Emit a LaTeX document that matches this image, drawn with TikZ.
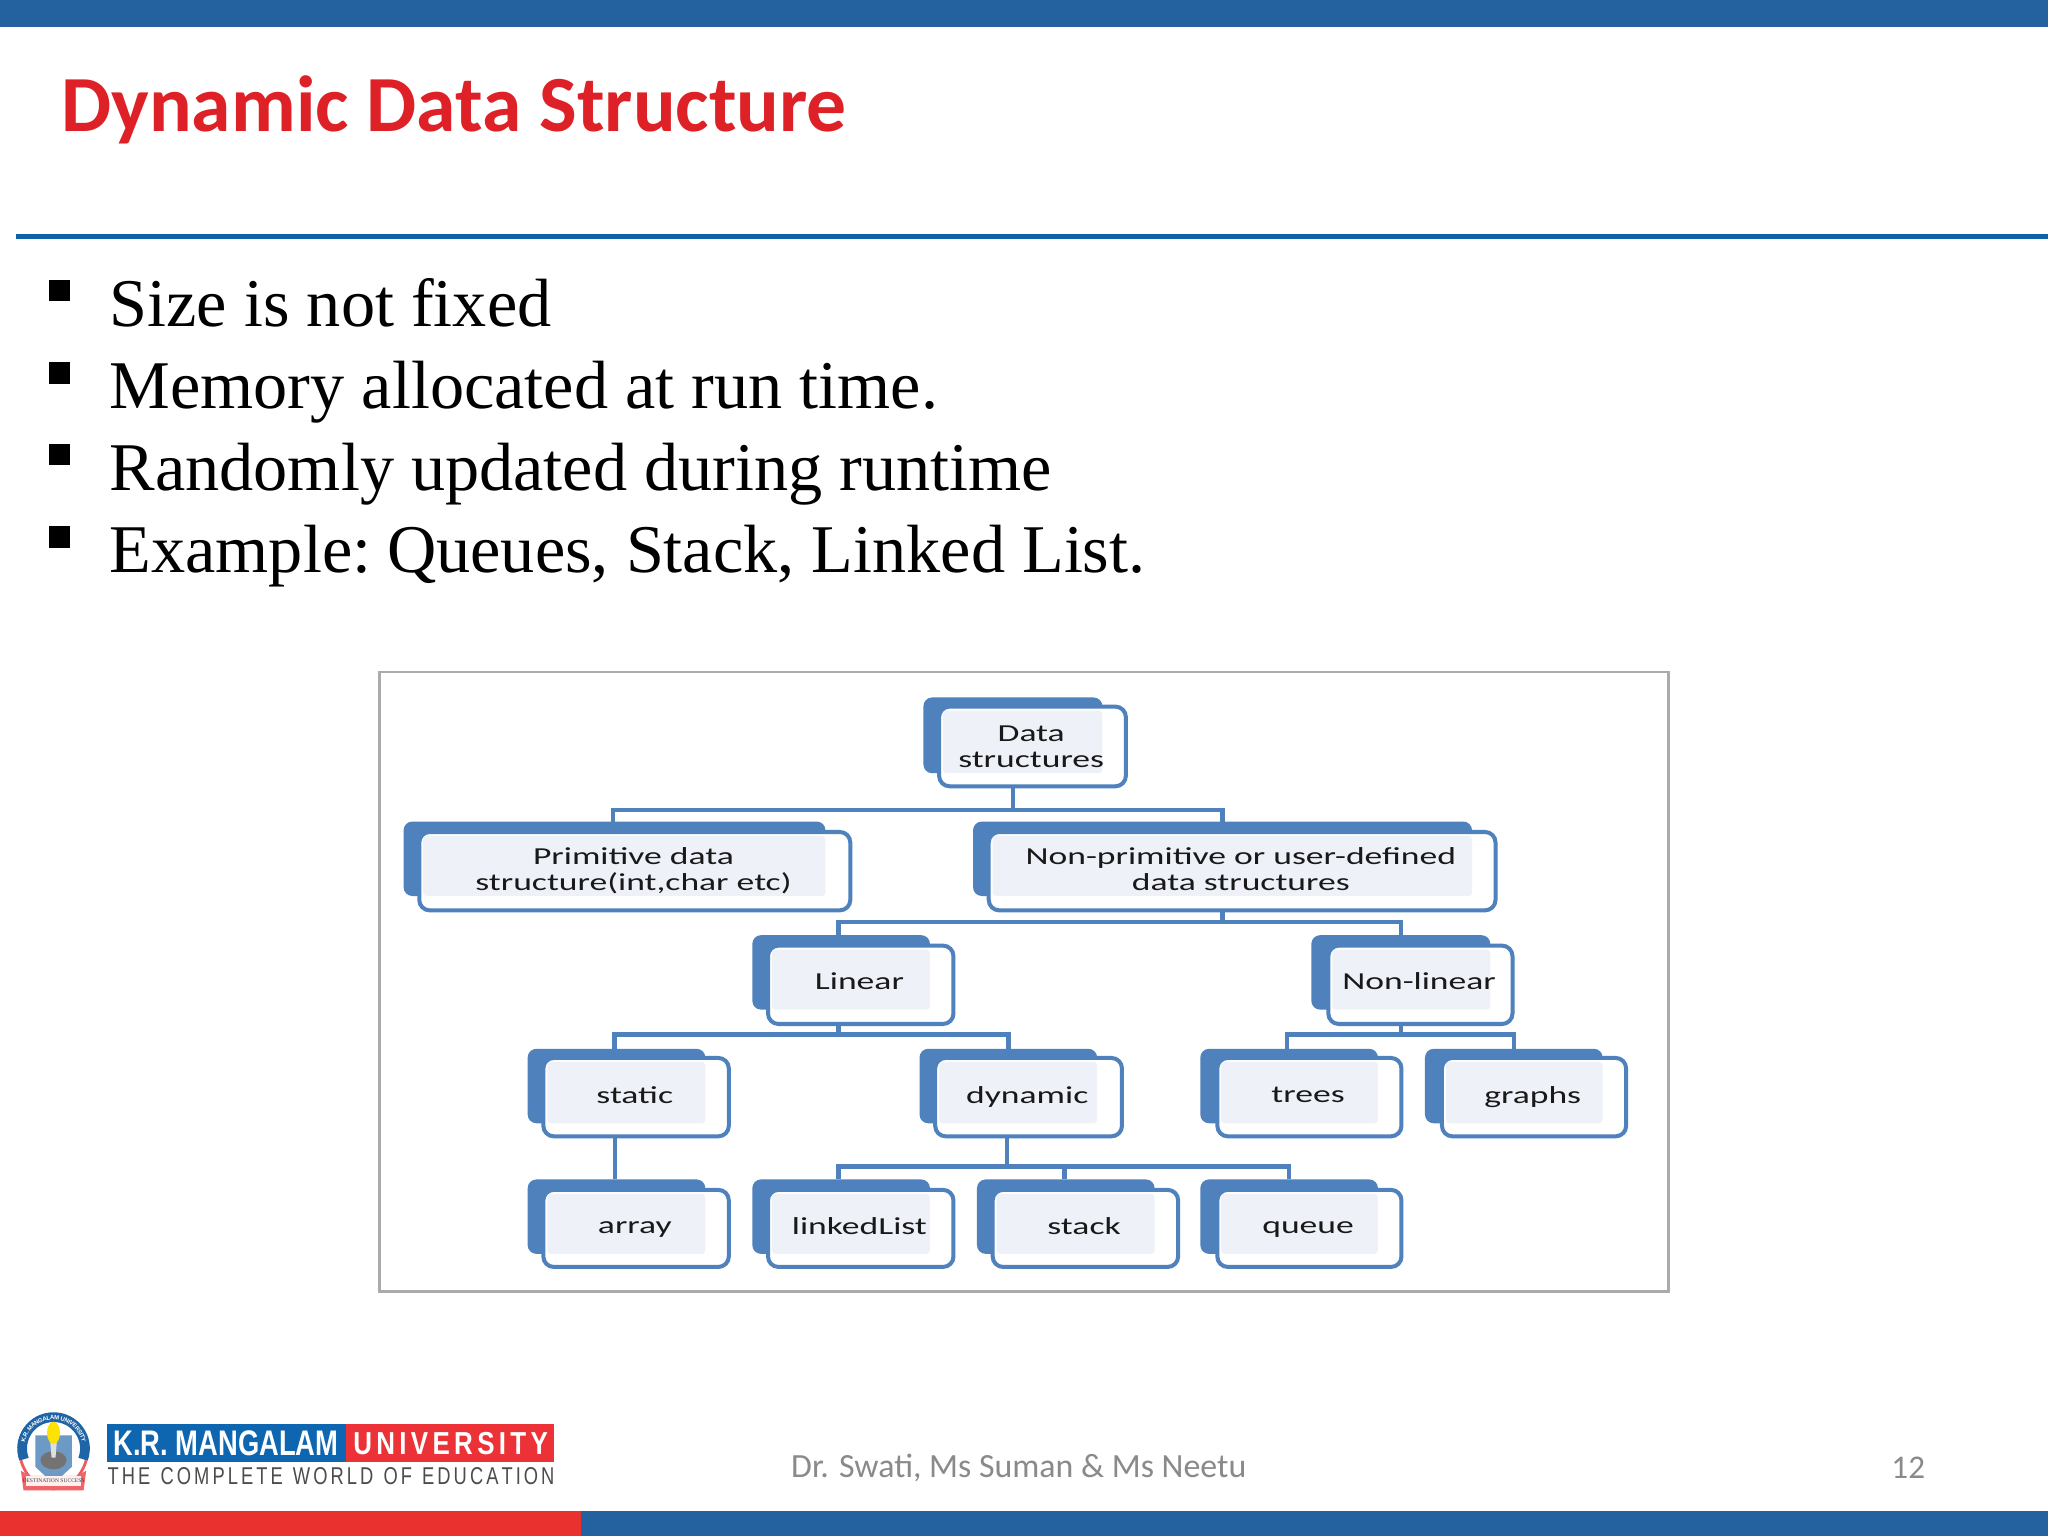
\documentclass[tikz,border=0pt]{standalone}
\usepackage{fontspec}
\usepackage{graphicx}
\setmainfont{Liberation Serif}
\newfontfamily\carl{Carlito}
\newfontfamily\arl{Liberation Sans}
\usetikzlibrary{decorations.text}
\definecolor{barblue}{HTML}{23619F}
\definecolor{rulecol}{HTML}{0F62A8}
\definecolor{titlered}{HTML}{DE2127}
\definecolor{footred}{HTML}{E93130}
\definecolor{treeblue}{HTML}{4F81BD}
\definecolor{palefill}{HTML}{EEF2F8}
\definecolor{framegray}{HTML}{ABABAB}
\definecolor{footgray}{HTML}{8A8A8A}
\definecolor{logoblue}{HTML}{0F66B0}
\definecolor{logored}{HTML}{EC3237}
\definecolor{sealblue}{HTML}{1F64A6}
\tikzset{
  x=0.75pt,y=-0.75pt,
  plain/.style={inner sep=0,outer sep=0},
  backbox/.style={plain,fill=treeblue,rounded corners=5pt},
  frontbox/.style={plain,draw=treeblue,line width=2.3pt,fill=white,rounded corners=6pt},
  palebox/.style={plain,fill=palefill,rounded corners=2pt},
  treelabel/.style={plain,font=\carl\fontsize{14}{15}\selectfont,align=center,text=black!90,xscale=1.46,transform shape},
  link/.style={draw=treeblue,line width=2.5pt},
  bullet/.style={plain,fill=black,minimum size=12.5pt},
  bullettext/.style={plain,anchor=base west,font=\fontsize{39.2}{42}\selectfont},
}
% name, back x0, back y0, back x1, back y1
\newcommand\backnode[5]{%
  \node[backbox,minimum width={0.75pt*(#4-#2)},minimum height={0.75pt*(#5-#3)}] (#1) at ({(#2+#4)/2},{(#3+#5)/2}) {};}
% name, front x0, y0, x1, y1, pale right, pale bottom, text, text y offset
\newcommand\frontnode[9]{%
  \node[frontbox,minimum width={0.75pt*(#4-#2)},minimum height={0.75pt*(#5-#3)}] (#1f) at ({(#2+#4)/2},{(#3+#5)/2}) {};
  \node[palebox,minimum width={0.75pt*(#6-#2-3)},minimum height={0.75pt*(#7-#3-3)}] (#1p) at ({(#2+3+#6)/2},{(#3+3+#7)/2}) {};
  \node[treelabel] (#1t) at ({(#2+#4)/2-1},{(#3+#5)/2+#9+2}) {#8};}
\newcommand\lp{\vphantom{Agy}}
\begin{document}
\begin{tikzpicture}
\useasboundingbox (0,0) rectangle (1568,1176);
\fill[white] (0,0) rectangle (1568,1176);
% bars
\fill[barblue] (0,0) rectangle (1568,21);
\fill[rulecol] (12,179) rectangle (1568,183);
\fill[footred] (0,1157) rectangle (445,1176);
\fill[barblue] (445,1157) rectangle (1568,1176);
% title
\node[plain,anchor=base west,text=titlered,font=\carl\bfseries\fontsize{45.7}{48}\selectfont] (title) at (47,101) {Dynamic Data Structure};
% bullets
\node[bullet] (b1) at (45.5,222.5) {};
\node[bullet] (b2) at (45.5,285.5) {};
\node[bullet] (b3) at (45.5,348) {};
\node[bullet] (b4) at (45.5,411) {};
\node[bullettext] (t1) at (84,250) {Size is not fixed};
\node[bullettext] (t2) at (84,313) {Memory allocated at run time.};
\node[bullettext] (t3) at (84,375.5) {Randomly updated during runtime};
\node[bullettext] (t4) at (84,438) {Example:\kern-4pt{} Queues, Stack, Linked List.};
% picture frame
\draw[framegray,line width=1.5pt] (290.5,514.5) rectangle (1277.5,989);
% tree: back boxes
\backnode{data}{707}{534}{844}{592}
\backnode{prim}{309}{629}{632}{686}
\backnode{nonp}{745}{629}{1127}{686}
\backnode{lin}{576}{716}{712}{773}
\backnode{nonl}{1004}{716}{1141}{773}
\backnode{stat}{404}{803}{540}{860}
\backnode{dyn}{704}{803}{840}{860}
\backnode{tre}{919}{803}{1055}{860}
\backnode{gra}{1091}{803}{1227}{860}
\backnode{arr}{404}{903}{540}{960}
\backnode{lnk}{576}{903}{712}{960}
\backnode{stk}{748}{903}{884}{960}
\backnode{que}{919}{903}{1055}{960}
% connectors
\draw[link] (data.south) -- ++(0,28) -| ([xshift=-1pt]prim.north);
\draw[link] (data.south) -- ++(0,28) -| (nonp.north);
\draw[link] (nonp.south) -- ++(0,20) -| ([xshift=-1.5pt]lin.north);
\draw[link] (nonp.south) -- ++(0,20) -| (nonl.north);
\draw[link] ([xshift=-1.5pt]lin.south) -- ++(0,19) -| ([xshift=-1.2pt]stat.north);
\draw[link] ([xshift=-1.5pt]lin.south) -- ++(0,19) -| (dyn.north);
\draw[link] (nonl.south) -- ++(0,19) -| ([xshift=-1.2pt]tre.north);
\draw[link] (nonl.south) -- ++(0,19) -| (gra.north);
\draw[link] ([xshift=-1pt]stat.south) -- ([xshift=-1pt]arr.north);
\draw[link] ([xshift=-0.7pt]dyn.south) -- ++(0,33) -| ([xshift=-1.5pt]lnk.north);
\draw[link] ([xshift=-0.7pt]dyn.south) -- ++(0,33) -| ([xshift=-0.7pt]stk.north);
\draw[link] ([xshift=-0.7pt]dyn.south) -- ++(0,33) -| (que.north);
% tree: front boxes
\frontnode{data}{719}{541}{862}{602}{844}{592}{\lp Data\\\lp structures}{-0.5}
\frontnode{prim}{321}{637}{651}{697}{632}{686}{\lp Primitive data\\\lp structure(int,char etc)}{-2}
\frontnode{nonp}{757}{637}{1145}{697}{1127}{686}{\lp Non-primitive or user-defined\\\lp data structures}{-2}
\frontnode{lin}{588}{724}{730}{784}{712}{773}{\lp Linear}{-3}
\frontnode{nonl}{1017}{724}{1158}{784}{1141}{773}{\lp Non-linear}{-3}
\frontnode{stat}{416}{810}{558}{870}{540}{860}{\lp static}{-2}
\frontnode{dyn}{716}{810}{859}{870}{840}{860}{\lp dynamic}{-2}
\frontnode{tre}{932}{810}{1073}{870}{1055}{860}{\lp trees}{-2}
\frontnode{gra}{1104}{810}{1245}{870}{1227}{860}{\lp graphs}{-2}
\frontnode{arr}{416}{911}{558}{970}{540}{960}{\lp array}{-2.5}
\frontnode{lnk}{588}{911}{730}{970}{712}{960}{\lp linkedList}{-2.5}
\frontnode{stk}{760}{911}{902}{970}{884}{960}{\lp stack}{-2.5}
\frontnode{que}{932}{911}{1073}{970}{1055}{960}{\lp queue}{-2.5}
% footer
\node[plain,text=footgray,font=\carl\fontsize{19.45}{22}\selectfont] (foot) at (780,1124) {Dr. Swati, Ms Suman \& Ms Neetu};
\node[plain,text=footgray,font=\carl\fontsize{19}{22}\selectfont] (page) at (1461,1124) {12};
% logo
\fill[logoblue] (82,1090) rectangle (265,1119);
\fill[logored] (265,1090) rectangle (424,1119);
\node[plain,text=white] (kr) at (173,1105) {\resizebox{172\dimexpr0.75pt\relax}{19\dimexpr0.75pt\relax}{\arl\bfseries K.R. MANGALAM}};
\node[plain,text=white] (uni) at (345,1105) {\resizebox{149\dimexpr0.75pt\relax}{17\dimexpr0.75pt\relax}{\arl\bfseries U\,N\,I\,V\,E\,R\,S\,I\,T\,Y}};
\node[plain,text=black!70] (tag) at (253.5,1130.5) {\resizebox{342\dimexpr0.75pt\relax}{13\dimexpr0.75pt\relax}{\arl T\,H\,E\ \ C\,O\,M\,P\,L\,E\,T\,E\ \ W\,O\,R\,L\,D\ \ O\,F\ \ E\,D\,U\,C\,A\,T\,I\,O\,N}};
% seal
\draw[logored!80!white,line width=1.6pt] (16,1118) .. controls (20,1132) and (30,1139) .. (41,1140) .. controls (52,1139) and (62,1132) .. (66,1118);
\draw[sealblue,line width=5.6pt] (18.4,1117.2) .. controls (12.7,1101.5) and (24.3,1085) .. (41,1085) .. controls (57.7,1085) and (69.3,1101.5) .. (63.6,1117.2);
\path[decorate,decoration={text along path,text align=center,raise=-1.3pt,
  text={|\arl\bfseries\fontsize{3.4}{4}\selectfont\color{white}|K.R. MANGALAM UNIVERSITY}}]
  (18.4,1117.2) .. controls (12.7,1101.5) and (24.3,1085) .. (41,1085) .. controls (57.7,1085) and (69.3,1101.5) .. (63.6,1117.2);
\fill[sealblue!65!white] (27,1099) -- (55,1099) -- (55,1123) -- (41,1136) -- (27,1123) -- cycle;
\fill[black!55] (41,1118) ellipse (10 and 7);
\fill[white!88!black] (38.5,1104) -- (43.5,1104) -- (42.5,1116) -- (39.5,1116) -- cycle;
\fill[yellow!85!orange] (41,1097) ellipse (5 and 8.5);
\fill[logored!75!white] (16,1126) -- (23,1130) -- (59,1130) -- (66,1126) -- (64,1141) -- (18,1141) -- cycle;
\fill[white!94!red] (20,1130) rectangle (62,1138);
\node[plain,text=black!75,font=\fontsize{3.2}{4}\selectfont] (motto) at (41,1134) {DESTINATION SUCCESS};
\end{tikzpicture}
\end{document}
